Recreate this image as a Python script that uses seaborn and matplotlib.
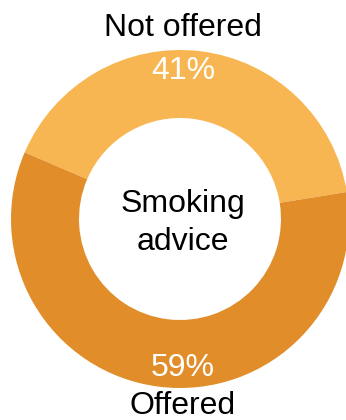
import matplotlib
matplotlib.use("Agg")
import matplotlib.pyplot as plt
import seaborn as sns

categories = ["Not offered", "Offered"]
values = [41, 59]
pct_labels = ["41%", "59%"]
center_title = "Smoking\nadvice"
colors = ["#F7B652", "#E08D2A"]

sns.set_theme(style="white")
plt.rcParams['font.family'] = ['Liberation Sans', 'DejaVu Sans']

W, H = 346, 420
fig = plt.figure(figsize=(W / 100, H / 100), dpi=100)
ax = fig.add_axes([0, 0, 1, 1])
cx, cy = 180, H - 219
R = 169
ax.pie(values, colors=colors, radius=R, center=(cx, cy), startangle=9.2,
       counterclock=True, wedgeprops=dict(width=68, linewidth=0))
ax.set_xlim(0, W)
ax.set_ylim(0, H)
ax.set_aspect("equal")
ax.axis("off")

fs = 23
ax.text(cx + 3, H - 71, pct_labels[0], color="white", fontsize=fs, ha="center", va="center")
ax.text(cx + 3, H - 368, pct_labels[1], color="white", fontsize=fs, ha="center", va="center")
ax.text(cx + 3, H - 28, categories[0], color="black", fontsize=fs, ha="center", va="center")
ax.text(cx + 3, H - 406, categories[1], color="black", fontsize=fs, ha="center", va="center")
ax.text(cx + 3, cy - 4, center_title, color="black", fontsize=fs, ha="center", va="center",
        linespacing=1.36)

fig.savefig("out.png", dpi=100)
